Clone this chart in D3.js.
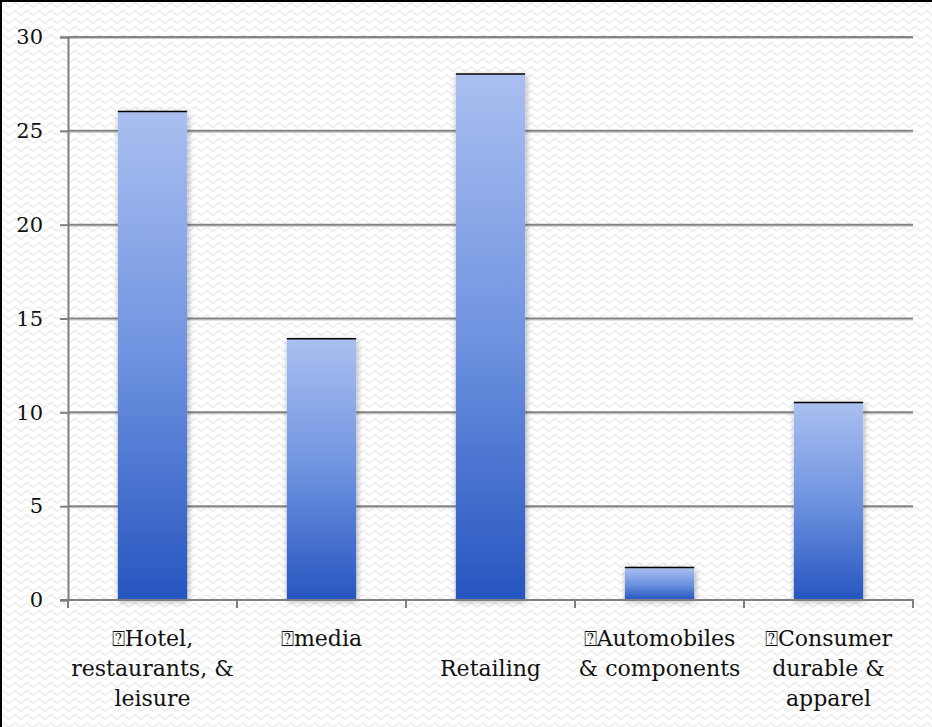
<!DOCTYPE html>
<html>
<head>
<meta charset="utf-8">
<script src="https://cdn.jsdelivr.net/npm/d3@7"></script>
<style>
  html, body { margin: 0; padding: 0; background: #fff; }
  svg { display: block; }
  svg text { font-family: "DejaVu Serif", "Liberation Serif", serif !important; fill: #111; }
</style>
</head>
<body>
<script>
// Sector categories (line breaks mark label wrapping)
const categories = [
  "\u2370Hotel,\nrestaurants, &\nleisure",
  "\u2370media",
  "\nRetailing",
  "\u2370Automobiles\n& components",
  "\u2370Consumer\ndurable &\napparel"
];
const values = [26, 13.9, 28, 1.7, 10.5];
const yTicks = [0, 5, 10, 15, 20, 25, 30];

const W = 932, H = 727;
const margin = { left: 68, right: 19, top: 37, bottom: 127 };

const svg = d3.select("body").append("svg")
  .attr("width", W).attr("height", H);

const defs = svg.append("defs");

// light zigzag backdrop
const pat = defs.append("pattern")
  .attr("id", "bgPattern").attr("patternUnits", "userSpaceOnUse")
  .attr("width", 12).attr("height", 8);
pat.append("rect").attr("width", 12).attr("height", 8).attr("fill", "#fff");
pat.append("path")
  .attr("d", "M0,5 Q3,1 6,5 T12,5")
  .attr("fill", "none").attr("stroke", "#ececec").attr("stroke-width", 1.3);

// bar fill: pale blue at top to deep blue at base
const grad = defs.append("linearGradient")
  .attr("id", "barGrad").attr("x1", 0).attr("y1", 0).attr("x2", 0).attr("y2", 1);
grad.append("stop").attr("offset", "0%").attr("stop-color", "#aabff0");
grad.append("stop").attr("offset", "50%").attr("stop-color", "#6f93e0");
grad.append("stop").attr("offset", "100%").attr("stop-color", "#2655bf");

const shadow = defs.append("filter").attr("id", "barShadow")
  .attr("x", "-30%").attr("y", "-30%").attr("width", "160%").attr("height", "160%");
shadow.append("feGaussianBlur").attr("in", "SourceAlpha").attr("stdDeviation", 3).attr("result", "b");
shadow.append("feOffset").attr("in", "b").attr("dx", 1).attr("dy", 1).attr("result", "o");
shadow.append("feComponentTransfer").attr("in", "o").attr("result", "s")
  .append("feFuncA").attr("type", "linear").attr("slope", 0.35);
const merge = shadow.append("feMerge");
merge.append("feMergeNode").attr("in", "s");
merge.append("feMergeNode").attr("in", "SourceGraphic");

svg.append("rect").attr("width", W).attr("height", H).attr("fill", "url(#bgPattern)");

// frame on top and left
svg.append("line").attr("x1", 0).attr("x2", W).attr("y1", 1).attr("y2", 1)
  .attr("stroke", "#000").attr("stroke-width", 2);
svg.append("line").attr("x1", 1).attr("x2", 1).attr("y1", 0).attr("y2", H)
  .attr("stroke", "#000").attr("stroke-width", 2);

const x = d3.scaleBand()
  .domain(categories)
  .range([margin.left, W - margin.right])
  .paddingInner(0.59).paddingOuter(0.295);

const xOuter = d3.scaleBand()
  .domain(categories)
  .range([margin.left, W - margin.right]);

const y = d3.scaleLinear()
  .domain([0, 30])
  .range([H - margin.bottom, margin.top]);

// horizontal gridlines
const grid = svg.append("g");
grid.selectAll("line.g1")
  .data(yTicks.filter(d => d > 0))
  .join("line")
  .attr("x1", margin.left).attr("x2", W - margin.right)
  .attr("y1", d => y(d) + 1.5).attr("y2", d => y(d) + 1.5)
  .attr("stroke", "#c8c8c8").attr("stroke-width", 1);
grid.selectAll("line.g2")
  .data(yTicks.filter(d => d > 0))
  .join("line")
  .attr("x1", margin.left).attr("x2", W - margin.right)
  .attr("y1", d => y(d)).attr("y2", d => y(d))
  .attr("stroke", "#858585").attr("stroke-width", 2);

// y axis
const yAxis = svg.append("g")
  .attr("transform", `translate(${margin.left},0)`)
  .call(d3.axisLeft(y).tickValues(yTicks).tickSize(8).tickPadding(17));
yAxis.attr("font-family", null);
yAxis.select(".domain").attr("stroke", "#7f7f7f").attr("stroke-width", 2);
yAxis.selectAll(".tick line").attr("stroke", "#7f7f7f").attr("stroke-width", 2);
yAxis.selectAll(".tick text")
  .attr("font-size", 21).attr("fill", "#111");

// bars
const bars = svg.append("g");
bars.selectAll("rect")
  .data(values)
  .join("rect")
  .attr("x", (d, i) => x(categories[i]))
  .attr("y", d => y(d))
  .attr("width", x.bandwidth())
  .attr("height", d => y(0) - y(d))
  .attr("fill", "url(#barGrad)")
  .attr("filter", "url(#barShadow)");
bars.selectAll("line")
  .data(values)
  .join("line")
  .attr("x1", (d, i) => x(categories[i]))
  .attr("x2", (d, i) => x(categories[i]) + x.bandwidth())
  .attr("y1", d => y(d) - 0.5).attr("y2", d => y(d) - 0.5)
  .attr("stroke", "#000").attr("stroke-width", 1.5);

// x axis with ticks at category boundaries
const xAxisG = svg.append("g");
xAxisG.append("line")
  .attr("x1", margin.left - 8).attr("x2", W - margin.right + 1)
  .attr("y1", y(0)).attr("y2", y(0))
  .attr("stroke", "#7f7f7f").attr("stroke-width", 2);
const bounds = categories.map(c => xOuter(c)).concat([W - margin.right]);
xAxisG.selectAll("line.tk")
  .data(bounds)
  .join("line")
  .attr("class", "tk")
  .attr("x1", d => d).attr("x2", d => d)
  .attr("y1", y(0)).attr("y2", y(0) + 8)
  .attr("stroke", "#7f7f7f").attr("stroke-width", 2);

// category labels
const labels = svg.append("g");
categories.forEach(c => {
  const lines = c.split("\n");
  const t = labels.append("text")
    .attr("text-anchor", "middle")
    .attr("font-size", 22)
    .attr("x", xOuter(c) + xOuter.bandwidth() / 2)
    .attr("y", y(0) + 46);
  lines.forEach((ln, j) => {
    t.append("tspan")
      .attr("x", xOuter(c) + xOuter.bandwidth() / 2)
      .attr("dy", j === 0 ? 0 : 30)
      .text(ln);
  });
});
</script>
</body>
</html>
